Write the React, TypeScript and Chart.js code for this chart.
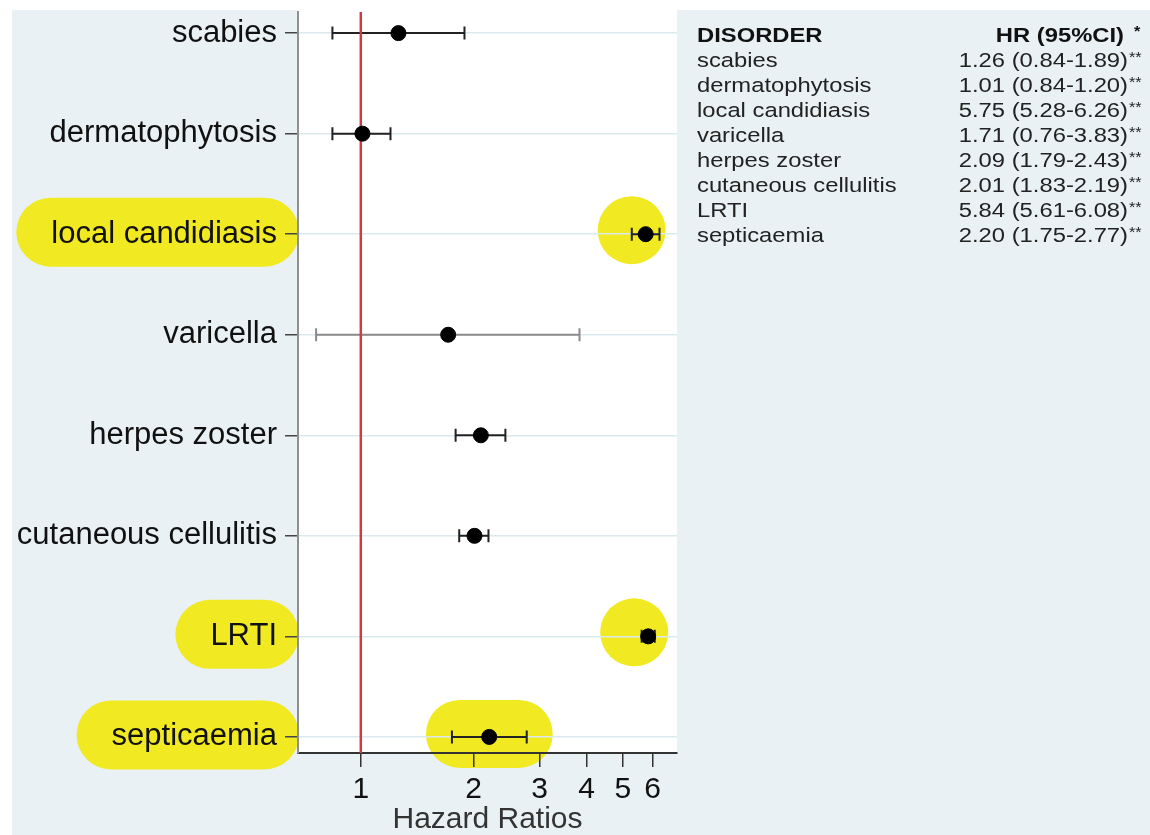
import React, { useEffect, useRef } from "react";
import { Chart, registerables } from "chart.js";

Chart.register(...registerables);

// ---- data ----
const categories = [
  "scabies",
  "dermatophytosis",
  "local candidiasis",
  "varicella",
  "herpes zoster",
  "cutaneous cellulitis",
  "LRTI",
  "septicaemia",
];
const hr = [1.26, 1.01, 5.75, 1.71, 2.09, 2.01, 5.84, 2.2];
const ciLow = [0.84, 0.84, 5.28, 0.76, 1.79, 1.83, 5.61, 1.75];
const ciHigh = [1.89, 1.2, 6.26, 3.83, 2.43, 2.19, 6.08, 2.77];
const xTicks = [1, 2, 3, 4, 5, 6];
const referenceValue = 1;
const xTitle = "Hazard Ratios";
const tableHeaderLeft = "DISORDER";
const tableHeaderRight = "HR (95%CI)";

// highlights (annotation selection)
const highlightLabels = ["local candidiasis", "LRTI", "septicaemia"];
const highlightPoints = ["local candidiasis", "LRTI"];
const highlightCI = ["septicaemia"];
const lightRows = ["varicella"];

// ---- styles ----
const FONT = "'Liberation Sans', Arial, Helvetica, sans-serif";
const PANEL = "#e9f1f4";
const YELLOW = "#f1e921";
const LABEL_SIZE = 31;
const Y_TICK_LEN = 13;
const Y_TICK_PAD = 8;

function pill(ctx: CanvasRenderingContext2D, x0: number, x1: number, cy: number, h: number) {
  const r = h / 2;
  ctx.beginPath();
  ctx.moveTo(x0 + r, cy - r);
  ctx.lineTo(x1 - r, cy - r);
  ctx.arc(x1 - r, cy, r, -Math.PI / 2, Math.PI / 2);
  ctx.lineTo(x0 + r, cy + r);
  ctx.arc(x0 + r, cy, r, Math.PI / 2, (3 * Math.PI) / 2);
  ctx.closePath();
  ctx.fill();
}

const forestPlugin = {
  id: "forest",
  beforeDraw(chart: any) {
    const { ctx, chartArea: ca, width, height } = chart;
    const xs = chart.scales.x;
    const ys = chart.scales.y;
    ctx.save();
    ctx.fillStyle = "#ffffff";
    ctx.fillRect(0, 0, width, height);
    ctx.fillStyle = PANEL;
    ctx.fillRect(12, 10, width - 12, height - 10);
    ctx.fillStyle = "#ffffff";
    ctx.fillRect(ca.left, ca.top - 2, ca.right - ca.left, ca.bottom - ca.top + 2);

    // yellow highlights
    ctx.fillStyle = YELLOW;
    ctx.font = `${LABEL_SIZE}px ${FONT}`;
    categories.forEach((c, i) => {
      const py = ys.getPixelForValue(i + 1);
      if (highlightLabels.includes(c)) {
        const w = ctx.measureText(c).width;
        const textRight = ca.left - Y_TICK_LEN - Y_TICK_PAD;
        pill(ctx, textRight - w - 35, ca.left + 1, py - 2, 69);
      }
      if (highlightPoints.includes(c)) {
        ctx.beginPath();
        ctx.arc(xs.getPixelForValue(hr[i]) - 14, py - 4, 34, 0, Math.PI * 2);
        ctx.fill();
      }
      if (highlightCI.includes(c)) {
        pill(ctx, xs.getPixelForValue(ciLow[i]) - 26, xs.getPixelForValue(ciHigh[i]) + 26, py - 3, 68);
      }
    });
    ctx.restore();
  },
  beforeDatasetsDraw(chart: any) {
    const { ctx, chartArea: ca } = chart;
    const xs = chart.scales.x;
    const ys = chart.scales.y;
    ctx.save();
    // error bars
    categories.forEach((c, i) => {
      const py = ys.getPixelForValue(i + 1);
      const x0 = xs.getPixelForValue(ciLow[i]);
      const x1 = xs.getPixelForValue(ciHigh[i]);
      ctx.strokeStyle = lightRows.includes(c) ? "#8a8a8a" : "#222222";
      ctx.lineWidth = 2;
      ctx.beginPath();
      ctx.moveTo(x0, py);
      ctx.lineTo(x1, py);
      ctx.moveTo(x0, py - 6.5);
      ctx.lineTo(x0, py + 6.5);
      ctx.moveTo(x1, py - 6.5);
      ctx.lineTo(x1, py + 6.5);
      ctx.stroke();
    });
    // reference line
    const rx = xs.getPixelForValue(referenceValue);
    ctx.strokeStyle = "#d03a46";
    ctx.lineWidth = 2.5;
    ctx.beginPath();
    ctx.moveTo(rx, ca.top);
    ctx.lineTo(rx, ca.bottom);
    ctx.stroke();
    ctx.restore();
  },
  afterDraw(chart: any) {
    const { ctx } = chart;
    const sx = 1.16;
    const leftX = 697;
    const rightX = 1128;
    const base0 = 41.5;
    const step = 25;
    const drawText = (t: string, x: number, y: number, font: string, color: string, align: CanvasTextAlign) => {
      ctx.save();
      ctx.translate(x, y);
      ctx.scale(sx, 1);
      ctx.font = font;
      ctx.fillStyle = color;
      ctx.textAlign = align;
      ctx.textBaseline = "alphabetic";
      ctx.fillText(t, 0, 0);
      ctx.restore();
    };
    const bold = `bold 20.5px ${FONT}`;
    const reg = `20.5px ${FONT}`;
    const small = `14px ${FONT}`;
    drawText(tableHeaderLeft, leftX, base0, bold, "#111", "left");
    drawText(tableHeaderRight, 1124, base0, bold, "#111", "right");
    drawText("*", 1134, base0 - 6, `bold 14px ${FONT}`, "#111", "left");
    categories.forEach((c, i) => {
      const by = base0 + step * (i + 1);
      drawText(c, leftX, by, reg, "#222", "left");
      const v = `${hr[i].toFixed(2)} (${ciLow[i].toFixed(2)}-${ciHigh[i].toFixed(2)})`;
      drawText(v, rightX, by, reg, "#222", "right");
      drawText("**", rightX + 1, by - 5, small, "#222", "left");
    });
  },
};

export default function App() {
  const ref = useRef<HTMLCanvasElement>(null);
  useEffect(() => {
    document.body.style.margin = "0";
    const canvas = ref.current!;
    const chart = new Chart(canvas, {
      type: "scatter",
      data: {
        datasets: [
          {
            data: hr.map((v, i) => ({ x: v, y: i + 1 })),
            backgroundColor: "#000000",
            borderColor: "#000000",
            pointRadius: 7.5,
            pointHoverRadius: 7.5,
            showLine: false,
          },
        ],
      },
      options: {
        responsive: false,
        animation: false,
        devicePixelRatio: 1,
        layout: { padding: { left: 0, top: 12, right: 473, bottom: 0 } },
        plugins: { legend: { display: false }, tooltip: { enabled: false } },
        scales: {
          x: {
            type: "logarithmic",
            min: 0.68,
            max: 6.97,
            afterBuildTicks: (s: any) => {
              s.ticks = xTicks.map((v) => ({ value: v }));
            },
            afterFit: (s: any) => {
              s.height = 82;
              s.paddingLeft = 0;
              s.paddingRight = 0;
            },
            ticks: {
              callback: (v: any) => String(v),
              autoSkip: false,
              maxRotation: 0,
              padding: 5,
              color: "#111",
              font: { family: FONT, size: 30, lineHeight: 1.2 },
            },
            grid: {
              drawOnChartArea: false,
              drawTicks: true,
              tickLength: 14,
              tickColor: "#333",
              lineWidth: 1.5,
            },
            border: { display: true, color: "#333", width: 2 },
            title: {
              display: true,
              text: xTitle,
              color: "#333",
              padding: 0,
              font: { family: FONT, size: 30, lineHeight: 1 },
            },
          },
          y: {
            type: "linear",
            reverse: true,
            min: 0.79,
            max: 8.16,
            afterBuildTicks: (s: any) => {
              s.ticks = categories.map((_, i) => ({ value: i + 1 }));
            },
            afterFit: (s: any) => {
              s.width = 298;
              s.paddingTop = 0;
              s.paddingBottom = 0;
            },
            ticks: {
              callback: (v: any) => categories[Math.round(v) - 1] ?? "",
              autoSkip: false,
              padding: Y_TICK_PAD,
              color: "#111",
              font: { family: FONT, size: LABEL_SIZE },
            },
            grid: {
              color: "#d9e9ee",
              lineWidth: 1.5,
              drawTicks: true,
              tickLength: Y_TICK_LEN,
              tickColor: "#444",
            },
            border: { display: true, color: "#8f8f8f", width: 2 },
          },
        },
      },
      plugins: [forestPlugin],
    });
    return () => chart.destroy();
  }, []);
  return (
    <div style={{ width: 1150, height: 835 }}>
      <canvas ref={ref} width={1150} height={835} style={{ display: "block", width: 1150, height: 835 }} />
    </div>
  );
}
